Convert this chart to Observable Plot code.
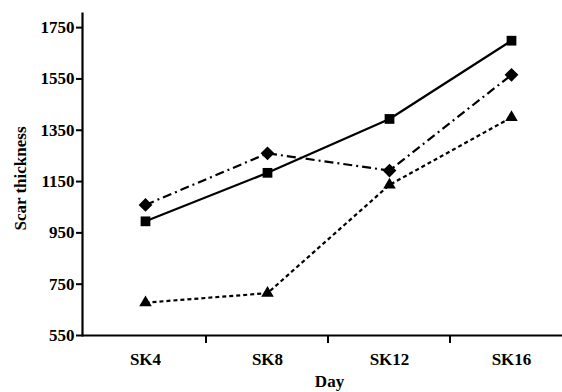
<!DOCTYPE html>
<html>
<head>
<meta charset="utf-8">
<script src="https://cdn.jsdelivr.net/npm/d3@7"></script>
<script src="https://cdn.jsdelivr.net/npm/@observablehq/plot@0.6"></script>
<style>
  html, body { margin: 0; padding: 0; background: #fff; }
  svg { font-family: "Liberation Serif", "DejaVu Serif", serif; }
</style>
</head>
<body>
<div id="chart"></div>
<script>
const days = ["SK4", "SK8", "SK12", "SK16"];
const squareSeries = [995, 1184, 1394, 1699];
const diamondSeries = [1059, 1260, 1193, 1566];
const triangleSeries = [678, 715, 1137, 1400];
const yTicks = [550, 750, 950, 1150, 1350, 1550, 1750];
const xTitle = "Day";
const yTitle = "Scar thickness";

const series = [
  {name: "square", values: squareSeries, symbol: "square", dash: null},
  {name: "diamond", values: diamondSeries, symbol: "diamond2", dash: "9,4,2,4"},
  {name: "triangle", values: triangleSeries, symbol: "triangle2", dash: "4,3"}
];
const data = series.flatMap(s => s.values.map((v, i) => ({series: s.name, day: days[i], value: v})));

const xRange = [82, 573.8];
const step = (xRange[1] - xRange[0]) / days.length;

const lineMarks = series.map(s => Plot.line(data.filter(d => d.series === s.name), {
  x: "day", y: "value", stroke: "#000", strokeWidth: 2.2,
  strokeDasharray: s.dash, strokeLinecap: "butt"
}));
const dotMarks = series.map(s => Plot.dot(data.filter(d => d.series === s.name), {
  x: "day", y: "value", symbol: () => s.symbol, fill: "#000", stroke: "none",
  r: s.name === "square" ? 5.5 : (s.name === "diamond" ? 6.2 : 6)
}));

const chart = Plot.plot({
  width: 562,
  height: 392,
  marginLeft: 82,
  marginRight: 0,
  marginTop: 13,
  marginBottom: 57,
  style: {fontFamily: "'Liberation Serif', serif", fontSize: "17px", fontWeight: "bold", color: "#000", background: "#fff"},
  x: {type: "point", domain: days, range: xRange, padding: 0.5},
  y: {domain: [550, 1805]},
  symbol: {type: "identity"},
  marks: [
    Plot.axisY({ticks: yTicks, tickSize: 6, tickPadding: 2, strokeWidth: 2, tickFormat: d => String(d), label: null, fontSize: 17, fontWeight: "bold"}),
    Plot.axisX({tickSize: 0, tickPadding: 17, label: null, fontSize: 17, fontWeight: "bold"}),
    Plot.axisX({ticks: days.slice(1), tickSize: 8, strokeWidth: 2, tickFormat: () => "", dx: -step / 2, label: null}),
    Plot.text([yTitle], {frameAnchor: "left", textAnchor: "middle", text: d => d, rotate: -90, dx: -62, dy: 4, fontSize: 17, fontWeight: "bold", fill: "#000"}),
    Plot.text([xTitle], {frameAnchor: "bottom", text: d => d, dy: 51, dx: 7, fontSize: 17, fontWeight: "bold", fill: "#000"}),
    Plot.ruleY([550], {strokeWidth: 2.2}),
    Plot.frame({anchor: "left", strokeWidth: 2.2}),
    ...lineMarks,
    ...dotMarks
  ]
});
document.getElementById("chart").appendChild(chart);
</script>
</body>
</html>
